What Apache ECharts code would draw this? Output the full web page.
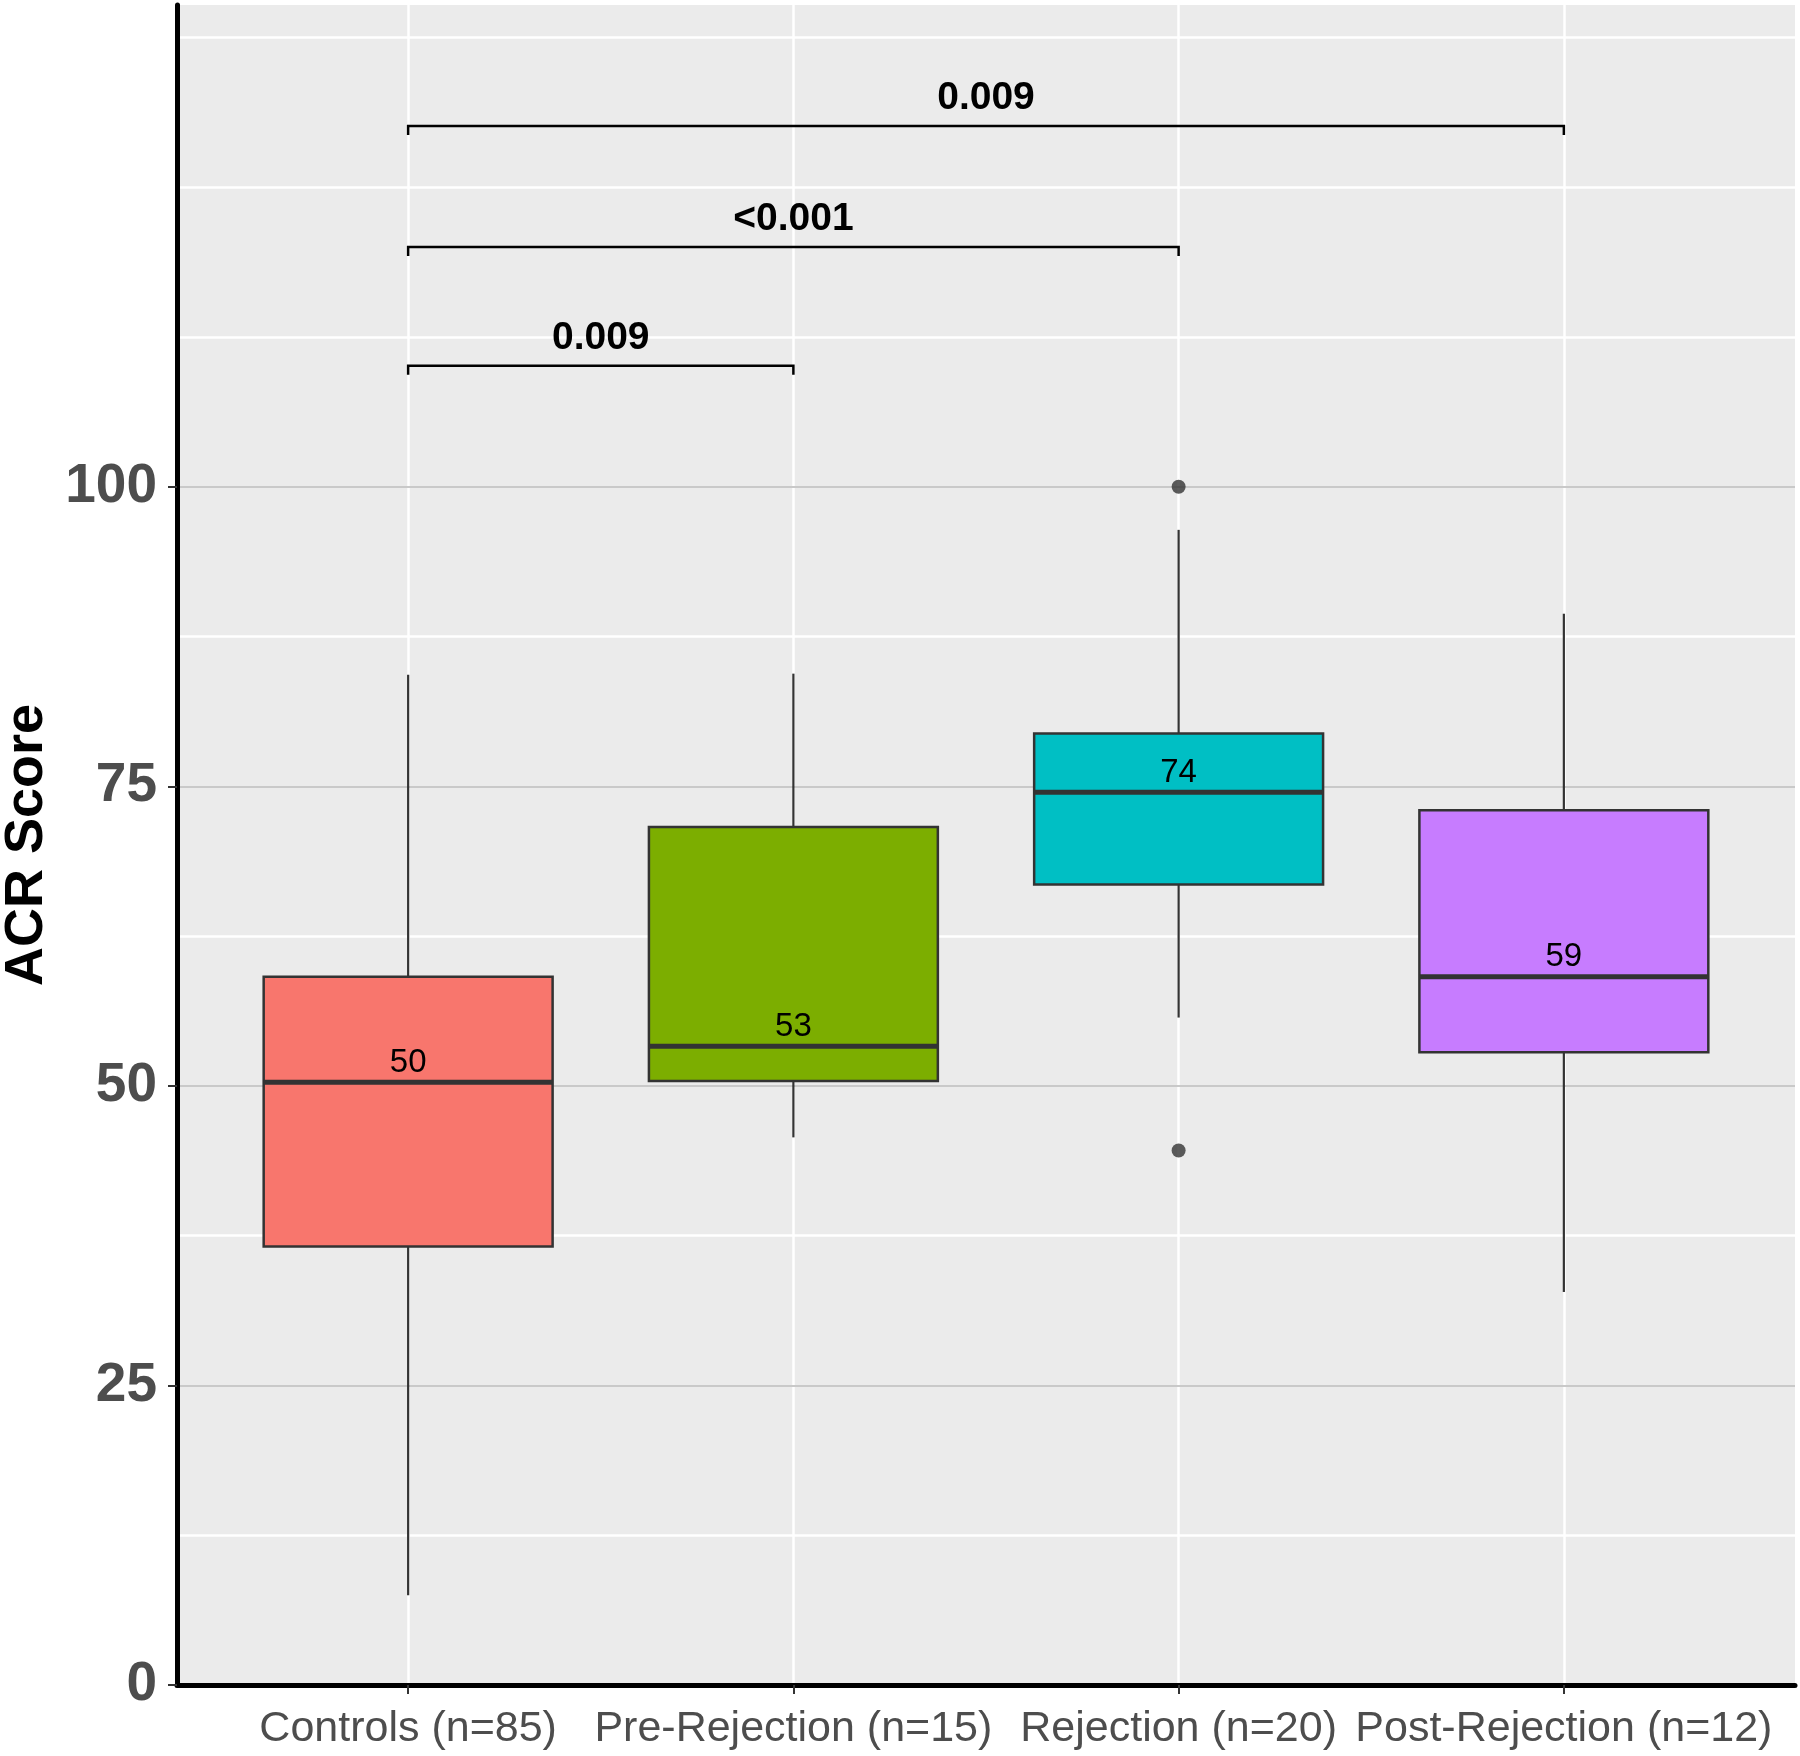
<!DOCTYPE html>
<html>
<head>
<meta charset="utf-8">
<script src="https://cdn.jsdelivr.net/npm/echarts@6/dist/echarts.min.js"></script>
<style>
html,body{margin:0;padding:0;background:#fff;}
#chart{width:1800px;height:1756px;}
</style>
</head>
<body>
<div id="chart"></div>
<script>
// ---- data ----
const categories = ['Controls (n=85)', 'Pre-Rejection (n=15)', 'Rejection (n=20)', 'Post-Rejection (n=12)'];
const whiskerLow  = [7.5, 45.7, 55.7, 32.8];
const q1          = [36.6, 50.4, 66.8, 52.8];
const median      = [50.3, 53.3, 74.5, 59.1];
const q3          = [59.1, 71.6, 79.4, 73.0];
const whiskerHigh = [84.3, 84.4, 96.4, 89.4];
const medianLabels = ['50', '53', '74', '59'];
const outlierGroup = [3, 3];
const outlierValue = [100, 44.6];
const bracketFrom = [1, 1, 1];
const bracketTo   = [2, 3, 4];
const bracketY    = [110.1, 120.0, 130.1];
const bracketLabels = ['0.009', '<0.001', '0.009'];
const yTicks = [0, 25, 50, 75, 100];
const yMinorLines = [12.5, 37.5, 62.5, 87.5, 112.5, 125, 137.5];
const fillColors = ['#F8766D', '#7CAE00', '#00BFC4', '#C77CFF'];

// ---- build ----
const boxData = categories.map((c, i) => [i + 1, whiskerLow[i], q1[i], median[i], q3[i], whiskerHigh[i]]);
const outlierData = outlierGroup.map((g, i) => [g, outlierValue[i]]);
const bracketData = bracketFrom.map((f, i) => [f, bracketTo[i], bracketY[i]]);

const chart = echarts.init(document.getElementById('chart'), null, {renderer: 'canvas'});

const gridLines = [];
yMinorLines.forEach(v => gridLines.push({yAxis: v, lineStyle: {color: '#FFFFFF', width: 2.5, type: 'solid'}}));
categories.forEach((c, i) => gridLines.push({xAxis: i + 1, lineStyle: {color: '#FFFFFF', width: 2.5, type: 'solid'}}));
yTicks.forEach(v => gridLines.push({yAxis: v, lineStyle: {color: '#C9C9C9', width: 2, type: 'solid'}}));

function renderBox(params, api) {
  const x = api.value(0);
  const cx = api.coord([x, 0])[0];
  const half = (api.coord([x + 0.375, 0])[0] - api.coord([x - 0.375, 0])[0]) / 2;
  const yLo = api.coord([x, api.value(1)])[1];
  const yQ1 = api.coord([x, api.value(2)])[1];
  const yMed = api.coord([x, api.value(3)])[1];
  const yQ3 = api.coord([x, api.value(4)])[1];
  const yHi = api.coord([x, api.value(5)])[1];
  const stroke = '#333333';
  return {
    type: 'group',
    children: [
      {type: 'line', shape: {x1: cx, y1: yQ3, x2: cx, y2: yHi}, style: {stroke: stroke, lineWidth: 2.2}},
      {type: 'line', shape: {x1: cx, y1: yQ1, x2: cx, y2: yLo}, style: {stroke: stroke, lineWidth: 2.2}},
      {type: 'rect', shape: {x: cx - half, y: yQ3, width: 2 * half, height: yQ1 - yQ3},
        style: {fill: fillColors[params.dataIndex], stroke: stroke, lineWidth: 2.5}},
      {type: 'line', shape: {x1: cx - half, y1: yMed, x2: cx + half, y2: yMed}, style: {stroke: stroke, lineWidth: 5}},
      {type: 'text', style: {text: medianLabels[params.dataIndex], x: cx, y: yMed - 3,
        textAlign: 'center', textVerticalAlign: 'bottom', fill: '#000000',
        font: '33px "Liberation Sans", Arial, sans-serif'}}
    ]
  };
}

function renderBracket(params, api) {
  const f = api.value(0), t = api.value(1), y = api.value(2);
  const p1 = api.coord([f, y]);
  const p2 = api.coord([t, y]);
  const drop = api.coord([f, y - 0.75])[1];
  return {
    type: 'group',
    children: [
      {type: 'polyline', shape: {points: [[p1[0], drop], [p1[0], p1[1]], [p2[0], p2[1]], [p2[0], drop]]},
        style: {stroke: '#000000', lineWidth: 2.5, fill: null}},
      {type: 'text', style: {text: bracketLabels[params.dataIndex], x: (p1[0] + p2[0]) / 2, y: p1[1] - 8,
        textAlign: 'center', textVerticalAlign: 'bottom', fill: '#000000',
        font: 'bold 39px "Liberation Sans", Arial, sans-serif'}}
    ]
  };
}

const option = {
  backgroundColor: '#FFFFFF',
  animation: false,
  grid: {left: 177, right: 5, top: 5, bottom: 71, show: false, containLabel: false, outerBoundsMode: 'none'},
  xAxis: {
    type: 'value', min: 0.4, max: 4.6, z: 10,
    axisLine: {show: true, onZero: false, lineStyle: {color: '#000000', width: 5}},
    axisTick: {show: true, customValues: [1, 2, 3, 4], length: 9, lineStyle: {color: '#333333', width: 2}},
    axisLabel: {show: true, customValues: [1, 2, 3, 4], margin: 23,
      formatter: v => categories[Math.round(v) - 1] || '',
      color: '#4D4D4D', fontSize: 43, fontFamily: '"Liberation Sans", Arial, sans-serif'},
    splitLine: {show: false}
  },
  yAxis: {
    type: 'value', min: 0, max: 140.2, z: 10,
    name: 'ACR Score', nameLocation: 'middle', nameRotate: 90, nameGap: 109,
    nameTextStyle: {color: '#000000', fontSize: 54, fontWeight: 'bold', fontFamily: '"Liberation Sans", Arial, sans-serif'},
    axisLine: {show: true, onZero: false, lineStyle: {color: '#000000', width: 5}},
    axisTick: {show: true, customValues: yTicks, length: 9, lineStyle: {color: '#333333', width: 2}},
    axisLabel: {show: true, customValues: yTicks, margin: 20, color: '#4D4D4D',
      fontSize: 55, fontWeight: 'bold', fontFamily: '"Liberation Sans", Arial, sans-serif'},
    splitLine: {show: false}
  },
  series: [
    {
      type: 'line', data: [], z: 1, silent: true,
      markArea: {silent: true, z: 0.5, itemStyle: {color: '#EBEBEB'}, data: [[{xAxis: 0.4, yAxis: 0}, {xAxis: 4.6, yAxis: 140.2}]]},
      markLine: {silent: true, z: 1, symbol: ['none', 'none'], label: {show: false}, animation: false, data: gridLines}
    },
    {type: 'custom', z: 3, data: boxData, encode: {x: 0, y: [1, 2, 3, 4, 5]}, renderItem: renderBox, silent: true},
    {type: 'scatter', z: 4, data: outlierData, symbol: 'circle', symbolSize: 14,
      itemStyle: {color: '#333333'}, silent: true},
    {type: 'custom', z: 4, data: bracketData, encode: {x: [0, 1], y: 2}, renderItem: renderBracket, silent: true}
  ]
};
chart.setOption(option);
</script>
</body>
</html>
